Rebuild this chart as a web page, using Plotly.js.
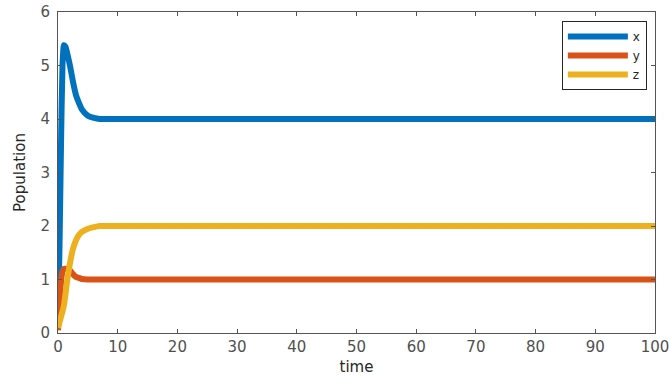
<!DOCTYPE html>
<html>
<head>
<meta charset="utf-8">
<script src="https://cdn.plot.ly/plotly-3.0.1.min.js"></script>
<style>html,body{margin:0;padding:0;background:#fff;}#chart{width:669px;height:376px;}</style>
</head>
<body>
<div id="chart"></div>
<script>
const time = [0, 0.25, 0.5, 0.75, 1, 1.25, 1.5, 2, 2.5, 3, 3.5, 4, 5, 6, 7, 8, 10, 20, 30, 40, 50, 60, 70, 80, 90, 100];
const xVals = [0.1, 1.6, 3.5, 5.0, 5.38, 5.35, 5.25, 5.0, 4.7, 4.45, 4.3, 4.18, 4.06, 4.02, 4.0, 4.0, 4.0, 4.0, 4.0, 4.0, 4.0, 4.0, 4.0, 4.0, 4.0, 4.0];
const yVals = [0.05, 0.5, 0.95, 1.15, 1.2, 1.2, 1.2, 1.17, 1.1, 1.05, 1.03, 1.01, 1.0, 1.0, 1.0, 1.0, 1.0, 1.0, 1.0, 1.0, 1.0, 1.0, 1.0, 1.0, 1.0, 1.0];
const zVals = [0.1, 0.2, 0.3, 0.4, 0.52, 0.72, 0.95, 1.3, 1.57, 1.73, 1.83, 1.89, 1.95, 1.98, 2.0, 2.0, 2.0, 2.0, 2.0, 2.0, 2.0, 2.0, 2.0, 2.0, 2.0, 2.0];
const seriesNames = ['x', 'y', 'z'];
const colors = ['#0072BD', '#D95319', '#EDB120'];
const xTicks = [0, 10, 20, 30, 40, 50, 60, 70, 80, 90, 100];
const yTicks = [0, 1, 2, 3, 4, 5, 6];

const series = [xVals, yVals, zVals];
const data = series.map((v, i) => ({
  x: time, y: v, name: seriesNames[i], type: 'scatter', mode: 'lines',
  line: {color: colors[i], width: 6, shape: 'spline', smoothing: 0.5}
}));

const FONT = 'DejaVu Sans, Liberation Sans, sans-serif';
const axisCommon = {
  showline: true, linecolor: '#555555', linewidth: 1, mirror: 'ticks',
  ticks: 'inside', ticklen: 4, tickcolor: '#555555', showgrid: false, zeroline: false,
  ticklabeloverflow: 'allow',
  tickfont: {family: FONT, size: 15, color: '#505050'}
};
const layout = {
  width: 669, height: 376,
  margin: {l: 58, r: 14, t: 12, b: 43},
  paper_bgcolor: '#fff', plot_bgcolor: '#fff',
  showlegend: true,
  legend: {x: 0.844, y: 0.972, xanchor: 'left', yanchor: 'top', bordercolor: '#262626', borderwidth: 1,
    bgcolor: '#fff', font: {family: FONT, size: 12, color: '#262626'}, tracegroupgap: 0, itemwidth: 60},
  xaxis: Object.assign({}, axisCommon, {range: [0, 100], tickvals: xTicks, ticktext: xTicks.map(String),
    title: {text: 'time', font: {family: FONT, size: 15, color: '#262626'}, standoff: 6}}),
  yaxis: Object.assign({}, axisCommon, {range: [0, 6], tickvals: yTicks, ticktext: yTicks.map(String), ticklabelstandoff: 4,
    title: {text: 'Population', font: {family: FONT, size: 15, color: '#262626'}, standoff: 11}})
};
Plotly.newPlot('chart', data, layout, {displayModeBar: false, staticPlot: true});
</script>
</body>
</html>
